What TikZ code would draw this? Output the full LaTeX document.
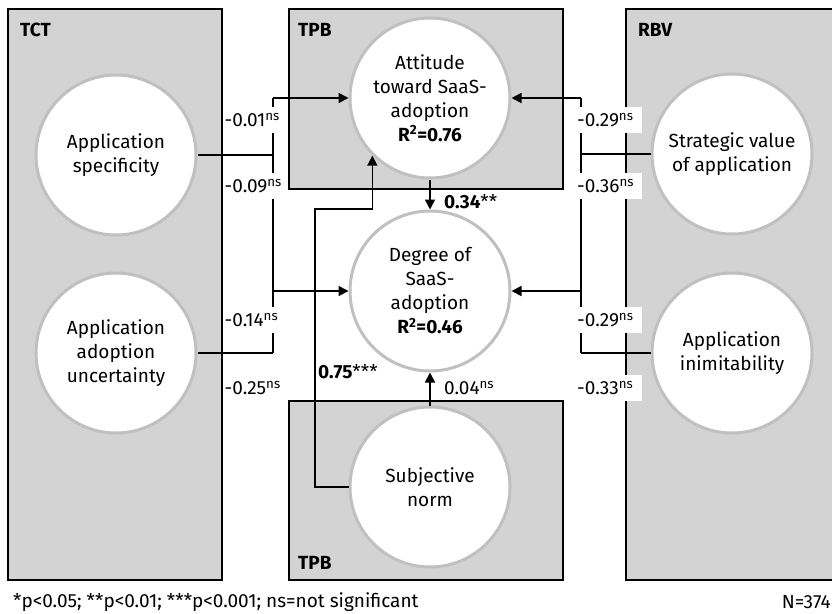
\documentclass[tikz,border=0pt]{standalone}
\usepackage{fontspec}
\setmainfont{Fira Sans}
\usetikzlibrary{arrows.meta}
\definecolor{boxgray}{HTML}{D3D3D3}
\definecolor{ringgray}{HTML}{C0C0C0}
\tikzset{
  groupbox/.style={rectangle, draw=black, fill=boxgray, line width=1.6pt, inner sep=0pt},
  construct/.style={circle, draw=ringgray, fill=white, line width=3pt, minimum size=160pt, inner sep=0pt, align=center, font=\fontsize{19}{24}\selectfont},
  conn/.style={line width=1.6pt, draw=black},
  arr/.style={conn, -{Triangle[length=10pt,width=10pt]}},
  coef/.style={fill=white, inner xsep=1pt, inner ysep=0pt, minimum height=26pt, anchor=west, font=\fontsize{19}{22}\selectfont},
  rcoef/.style={coef, text width=64pt, align=left},
  gtitle/.style={anchor=west, inner sep=0pt, font=\fontsize{19}{22}\selectfont\bfseries},
  plaintext/.style={inner sep=0pt, font=\fontsize{19}{22}\selectfont},
  foottext/.style={inner sep=0pt, font=\fontsize{19}{22}\selectfont},
}
\begin{document}
\begin{tikzpicture}[x=1pt,y=-1pt]
\useasboundingbox (0,0) rectangle (832,613);
% group boxes
\node[groupbox, minimum width=214pt, minimum height=571pt] (tct) at (115,294.5) {};
\node[groupbox, minimum width=274pt, minimum height=180pt] (tpbtop) at (426,99) {};
\node[groupbox, minimum width=274pt, minimum height=179pt] (tpbbot) at (426,490.5) {};
\node[groupbox, minimum width=214pt, minimum height=571pt] (rbv) at (733,294.5) {};
\node[gtitle] (tcttitle) at (20,30) {TCT};
\node[gtitle] (tpbtitle) at (298,30) {TPB};
\node[gtitle] (tpbtitle2) at (298,563) {TPB};
\node[gtitle] (rbvtitle) at (638,30) {RBV};
% constructs
\node[construct] (spec) at (116,155) {Application\\specificity};
\node[construct] (unc) at (116,353) {Application\\adoption\\uncertainty};
\node[construct] (att) at (430,98) {Attitude\\toward SaaS-\\adoption\\\textbf{R\textsuperscript{2}=0.76}};
\node[construct] (deg) at (430,291) {Degree of\\SaaS-\\adoption\\\textbf{R\textsuperscript{2}=0.46}};
\node[construct] (sub) at (430,487) {Subjective\\norm};
\node[construct] (str) at (732,154) {Strategic value\\of application};
\node[construct] (inim) at (732,353) {Application\\inimitability};
% junction coordinates
\coordinate (lvtop) at (273,98);
\coordinate (lvmid) at (273,291);
\coordinate (rvtop) at (581,98);
\coordinate (rvmid) at (581,291);
\coordinate (k1) at (315,209);
% left connectors
\draw[conn] (spec.east) -- (spec.east -| lvtop);
\draw[conn] (unc.east) -- (unc.east -| lvtop);
\draw[conn] (lvtop) -- (unc.east -| lvtop);
\draw[arr] (lvtop) -- (att.west);
\draw[arr] (lvmid) -- (deg.west);
% right connectors
\draw[conn] (str.west) -- (str.west -| rvtop);
\draw[conn] (inim.west) -- (inim.west -| rvtop);
\draw[conn] (rvtop) -- (inim.west -| rvtop);
\draw[arr] (rvtop) -- (att.east);
\draw[arr] (rvmid) -- (deg.east);
% central connectors
\draw[arr] (att.south) -- (deg.north);
\draw[arr] (sub.north) -- (deg.south);
\draw[arr] (sub.west) -| (k1) -| (att.south west);
% coefficients
\node[coef] (c1) at (223.5,120) {-0.01\textsuperscript{ns}};
\node[coef] (c2) at (223.5,186) {-0.09\textsuperscript{ns}};
\node[coef] (c3) at (223.5,320) {-0.14\textsuperscript{ns}};
\node[coef] (c4) at (223.5,388) {-0.25\textsuperscript{ns}};
\node[rcoef] (c5) at (576,120) {-0.29\textsuperscript{ns}};
\node[rcoef] (c6) at (576,186) {-0.36\textsuperscript{ns}};
\node[rcoef] (c7) at (576,320) {-0.29\textsuperscript{ns}};
\node[rcoef] (c8) at (576,388) {-0.33\textsuperscript{ns}};
\node[plaintext, anchor=west] (c9) at (444,202) {\textbf{0.34}**};
\node[plaintext, anchor=west] (c10) at (444,388) {0.04\textsuperscript{ns}};
\node[plaintext, anchor=west] (c11) at (318,372) {\textbf{0.75}***};
% footer
\node[foottext, anchor=west] (note) at (13,602) {*p<0.05; **p<0.01; ***p<0.001; ns=not significant};
\node[foottext, anchor=east] (nsize) at (831,602) {N=374};
\end{tikzpicture}
\end{document}
